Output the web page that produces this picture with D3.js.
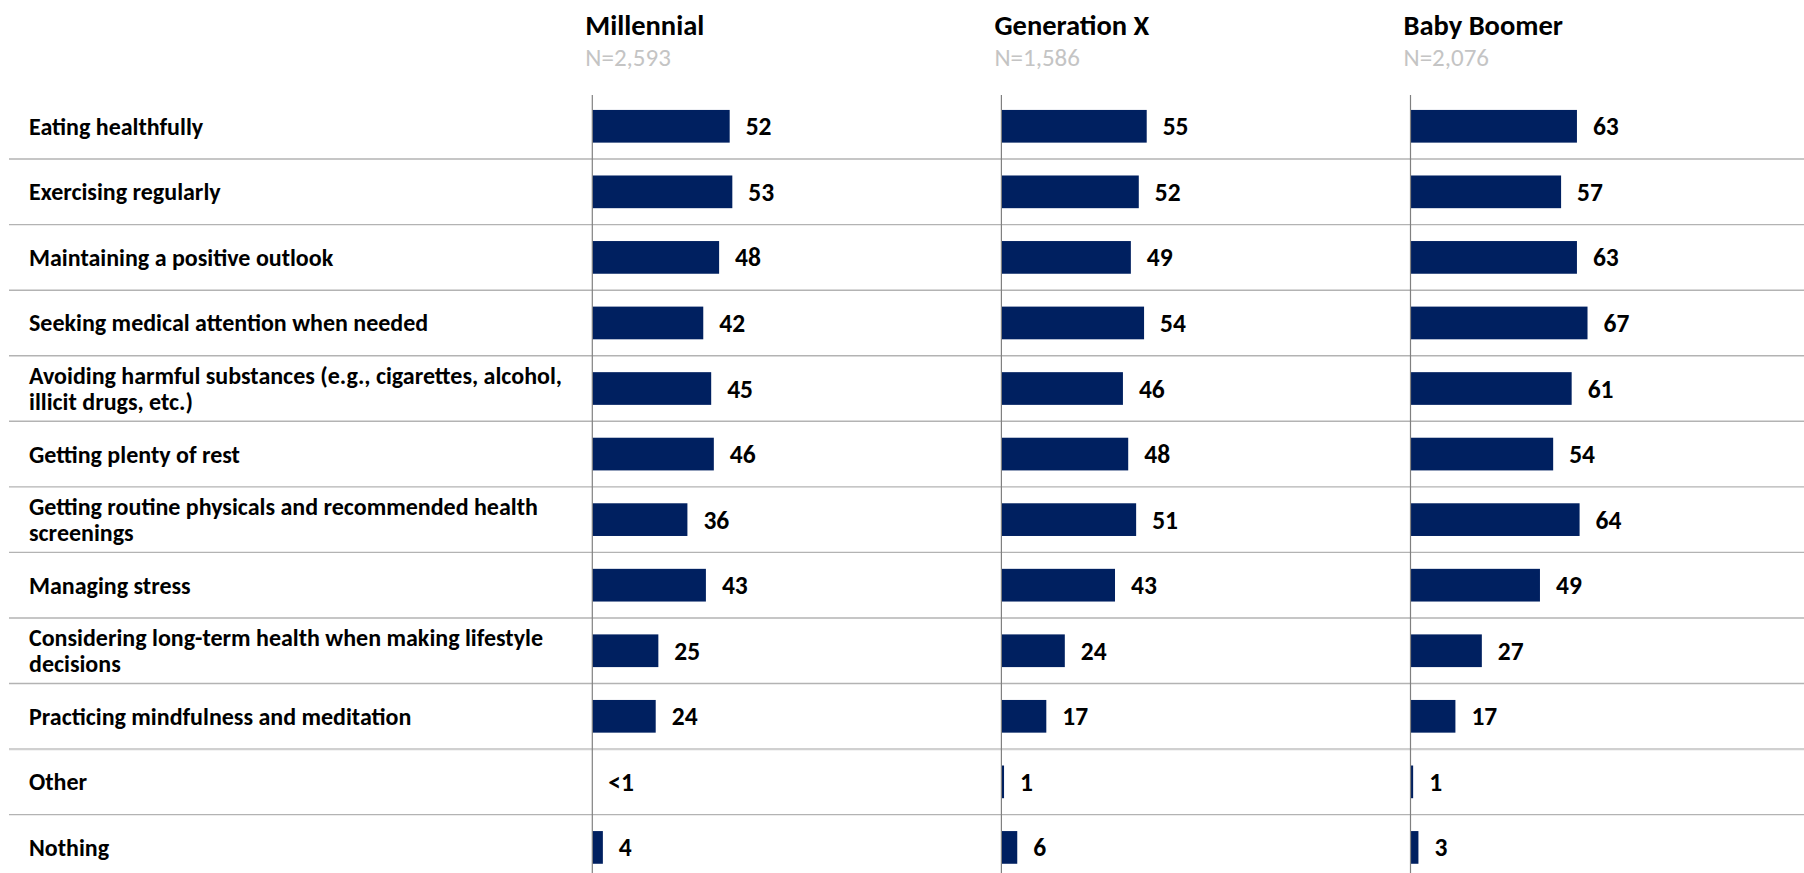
<!DOCTYPE html>
<html>
<head>
<meta charset="utf-8">
<script src="https://cdn.jsdelivr.net/npm/d3@7"></script>
<style>
  html, body { margin: 0; padding: 0; background: #fff; }
  svg { display: block; }
  text { font-family: Carlito, Calibri, Lato, "Liberation Sans", sans-serif; }
</style>
</head>
<body>
<svg id="chart" width="1804" height="873"></svg>
<script>
// ---- data ----
const categories = [
  ["Eating healthfully"],
  ["Exercising regularly"],
  ["Maintaining a positive outlook"],
  ["Seeking medical attention when needed"],
  ["Avoiding harmful substances (e.g., cigarettes, alcohol,", "illicit drugs, etc.)"],
  ["Getting plenty of rest"],
  ["Getting routine physicals and recommended health", "screenings"],
  ["Managing stress"],
  ["Considering long-term health when making lifestyle", "decisions"],
  ["Practicing mindfulness and meditation"],
  ["Other"],
  ["Nothing"]
];
const groups = ["Millennial", "Generation X", "Baby Boomer"];
const sampleSizes = ["N=2,593", "N=1,586", "N=2,076"];
const millennial = [52, 53, 48, 42, 45, 46, 36, 43, 25, 24, 0, 4];
const millennialLabels = ["52", "53", "48", "42", "45", "46", "36", "43", "25", "24", "<1", "4"];
const genX = [55, 52, 49, 54, 46, 48, 51, 43, 24, 17, 1, 6];
const genXLabels = ["55", "52", "49", "54", "46", "48", "51", "43", "24", "17", "1", "6"];
const boomer = [63, 57, 63, 67, 61, 54, 64, 49, 27, 17, 1, 3];
const boomerLabels = ["63", "57", "63", "67", "61", "54", "64", "49", "27", "17", "1", "3"];

const seriesValues = [millennial, genX, boomer];
const seriesLabels = [millennialLabels, genXLabels, boomerLabels];

// ---- layout ----
const W = 1804, H = 873;
const svg = d3.select("#chart");
const idx = categories.map((d, i) => i);

const y = d3.scalePoint().domain(idx).range([93.5, 880.2]).padding(0.5);
const step = y.step();
const barH = 32.7;

const panelX = d3.scalePoint().domain(groups).range([592.3, 1410.5]);
const x = d3.scaleLinear().domain([0, 100]).range([0, 264.2]);

const FONT_LABEL = 24, FONT_VAL = 25.5, FONT_TITLE = 28.5, FONT_N = 25;

// separators
idx.slice(0, -1).forEach(i => {
  const yy = y(i) + step / 2;
  const light = (i === 9);
  svg.append("line")
    .attr("x1", 9).attr("x2", W)
    .attr("y1", yy).attr("y2", yy)
    .attr("stroke", light ? "#d0d0d0" : "#b3b3b3")
    .attr("stroke-width", light ? 2.2 : 1.4);
});

// category labels
const lab = svg.append("g");
categories.forEach((lines, i) => {
  const t = lab.append("text")
    .attr("x", 29)
    .attr("font-size", FONT_LABEL)
    .attr("font-weight", "bold")
    .attr("fill", "#000");
  const lh = 26.5;
  const y0 = y(i) - (lines.length - 1) * lh / 2 + 8.5;
  lines.forEach((l, k) => {
    t.append("tspan").attr("x", 29).attr("y", y0 + k * lh).text(l);
  });
});

// panels
groups.forEach((g, gi) => {
  const px = panelX(g);
  const pg = svg.append("g").attr("transform", `translate(${px},0)`);

  pg.append("text")
    .attr("x", -7).attr("y", 35)
    .attr("font-size", FONT_TITLE).attr("font-weight", "bold")
    .attr("fill", "#000").text(g);
  pg.append("text")
    .attr("x", -7).attr("y", 66)
    .attr("font-size", FONT_N)
    .attr("fill", "#c4c4c4").text(sampleSizes[gi]);

  const vals = seriesValues[gi];
  const labs = seriesLabels[gi];

  pg.selectAll("rect.bar").data(vals).enter().append("rect")
    .attr("class", "bar")
    .attr("x", 0)
    .attr("y", (d, i) => y(i) - barH / 2)
    .attr("width", d => x(d))
    .attr("height", barH)
    .attr("fill", "#002060");

  pg.selectAll("text.val").data(vals).enter().append("text")
    .attr("class", "val")
    .attr("x", d => x(d) + 16)
    .attr("y", (d, i) => y(i) + 9)
    .attr("font-size", FONT_VAL).attr("font-weight", "bold")
    .attr("fill", "#000")
    .text((d, i) => labs[i]);

  pg.append("line")
    .attr("x1", 0).attr("x2", 0)
    .attr("y1", 95).attr("y2", H)
    .attr("stroke", "#808080").attr("stroke-width", 1.2);
});
</script>
</body>
</html>
